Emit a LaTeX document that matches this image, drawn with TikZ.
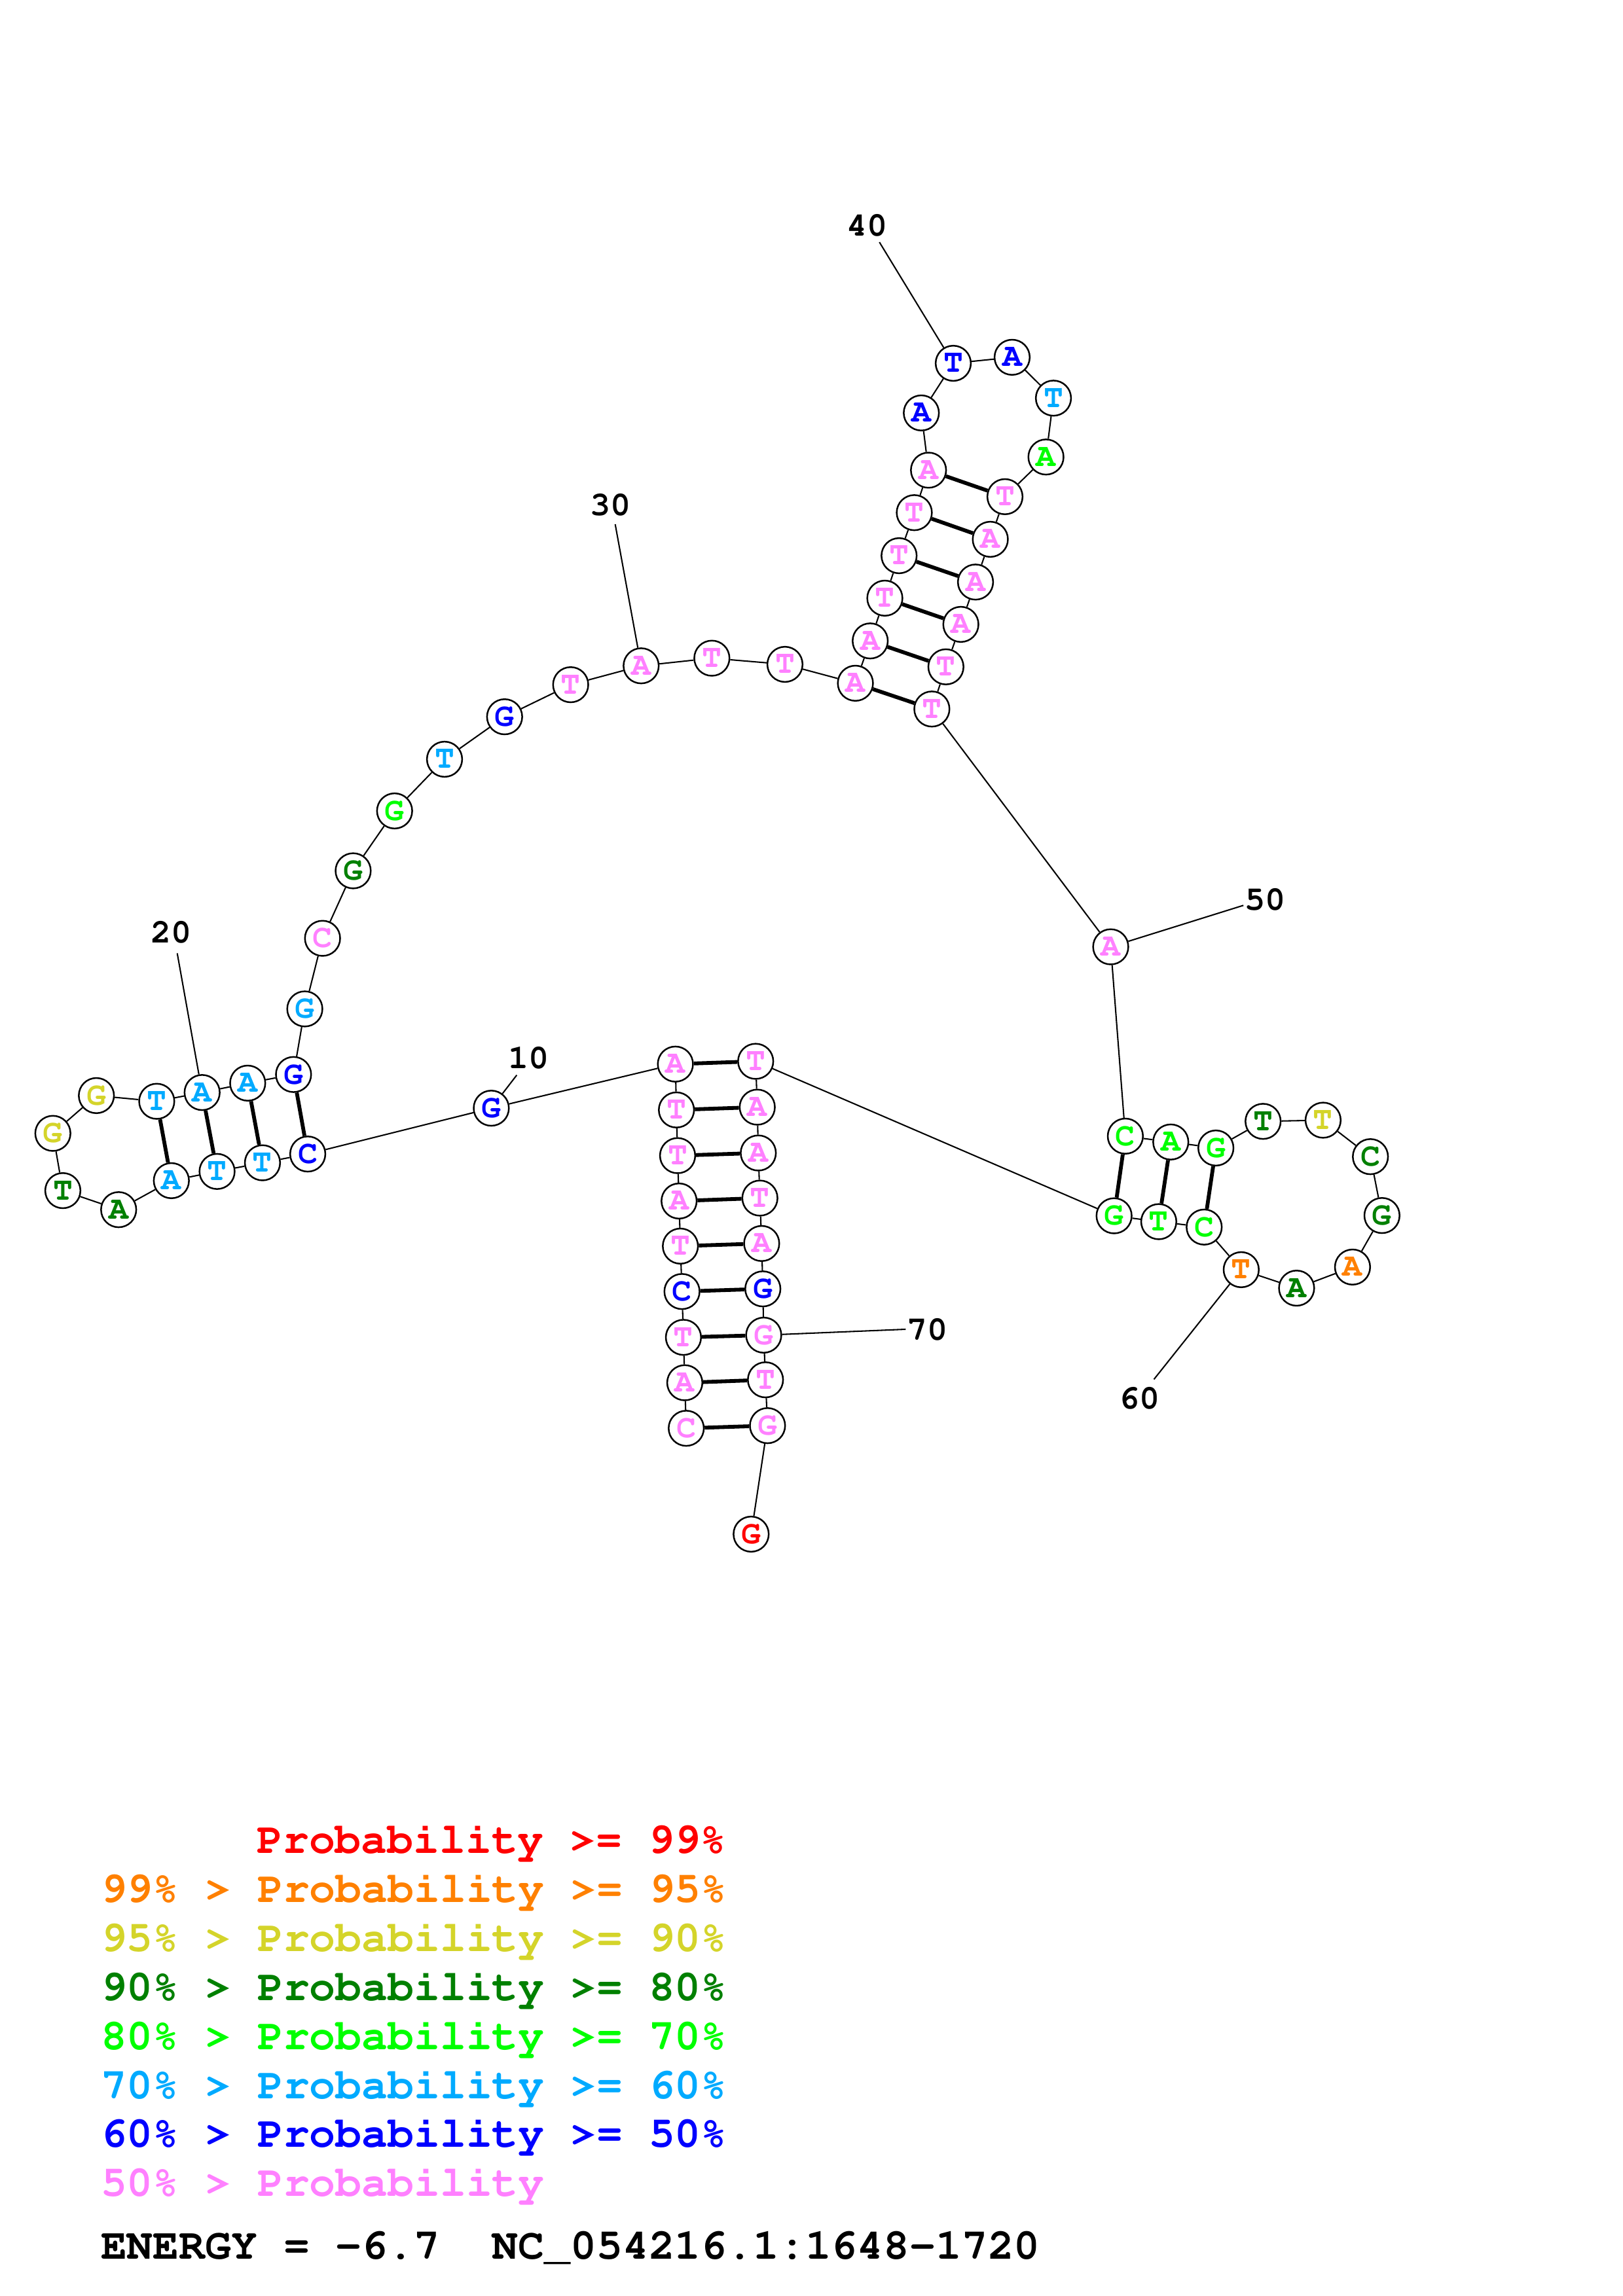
\documentclass[tikz,border=0pt]{standalone}
\usepackage[T1,TU]{fontenc}
\usepackage{fontspec}
\usepackage{tikz}
\newcommand\courfont{\fontencoding{T1}\fontfamily{pcr}\selectfont}
\definecolor{probred}{HTML}{FF0000}
\definecolor{proborange}{HTML}{FF8000}
\definecolor{probyellow}{HTML}{D4D42A}
\definecolor{probdkgreen}{HTML}{008000}
\definecolor{probgreen}{HTML}{00FF00}
\definecolor{probsky}{HTML}{00AAFF}
\definecolor{probblue}{HTML}{0000FF}
\definecolor{probpink}{HTML}{FF80FF}

\begin{document}
\begin{tikzpicture}[x=0.18941mm,y=-0.18941mm]
                    \tikzstyle{every node}=[font=\courfont\bfseries]
                    \tikzstyle{nuc} = [circle, draw=black, fill=white, line width=0.6pt, minimum size=4.55mm, inner sep=0pt, font=\courfont\bfseries\fontsize{12}{12}\selectfont]
                    \tikzstyle{backbone} = [line width=0.5pt]
                    \tikzstyle{pair} = [line width=1.4pt]
                    \tikzstyle{idx} = [inner sep=0pt, font=\courfont\bfseries\fontsize{12.5}{14}\selectfont]
                    \tikzstyle{legend} = [anchor=base west, inner sep=0pt, font=\courfont\bfseries\fontsize{16}{18}\selectfont]

                    \useasboundingbox (0,0) rectangle (1108,1568);

                    % middle stem, 5' side
                    \node[nuc, text=probpink](n1) at (468.5,975.4) {C};
                    \node[nuc, text=probpink](n2) at (467.5,944.3) {A};
                    \node[nuc, text=probpink](n3) at (466.6,913.3) {T};
                    \node[nuc, text=probblue](n4) at (465.6,882.0) {C};
                    \node[nuc, text=probpink](n5) at (464.5,851.0) {T};
                    \node[nuc, text=probpink](n6) at (463.6,820.2) {A};
                    \node[nuc, text=probpink](n7) at (462.6,789.2) {T};
                    \node[nuc, text=probpink](n8) at (461.8,758.0) {T};
                    \node[nuc, text=probpink](n9) at (461.1,726.7) {A};
                    \node[nuc, text=probblue](n10) at (335.4,756.8) {G};
                    % left hairpin
                    \node[nuc, text=probblue](n11) at (210.1,788.1) {C};
                    \node[nuc, text=probsky](n12) at (179.2,794.1) {T};
                    \node[nuc, text=probsky](n13) at (148.2,800.0) {T};
                    \node[nuc, text=probsky](n14) at (117.0,806.3) {A};
                    \node[nuc, text=probdkgreen](n15) at (81.0,826.1) {A};
                    \node[nuc, text=probdkgreen](n16) at (42.9,813.1) {T};
                    \node[nuc, text=probyellow](n17) at (36.1,774.0) {G};
                    \node[nuc, text=probyellow](n18) at (65.8,748.2) {G};
                    \node[nuc, text=probsky](n19) at (107.0,752.1) {T};
                    \node[nuc, text=probsky](n20) at (138.0,746.1) {A};
                    \node[nuc, text=probsky](n21) at (169.1,739.7) {A};
                    \node[nuc, text=probblue](n22) at (200.4,733.8) {G};
                    % arc up to the top hairpin
                    \node[nuc, text=probsky](n23) at (208.1,689.0) {G};
                    \node[nuc, text=probpink](n24) at (220.2,640.8) {C};
                    \node[nuc, text=probdkgreen](n25) at (241.1,594.7) {G};
                    \node[nuc, text=probgreen](n26) at (269.4,553.8) {G};
                    \node[nuc, text=probsky](n27) at (303.5,518.5) {T};
                    \node[nuc, text=probblue](n28) at (344.5,489.5) {G};
                    \node[nuc, text=probpink](n29) at (389.6,467.6) {T};
                    \node[nuc, text=probpink](n30) at (437.7,454.7) {A};
                    \node[nuc, text=probpink](n31) at (486.0,449.5) {T};
                    \node[nuc, text=probpink](n32) at (535.9,453.7) {T};
                    % top hairpin
                    \node[nuc, text=probpink](n33) at (584.0,466.6) {A};
                    \node[nuc, text=probpink](n34) at (594.1,437.7) {A};
                    \node[nuc, text=probpink](n35) at (604.1,408.5) {T};
                    \node[nuc, text=probpink](n36) at (613.8,379.5) {T};
                    \node[nuc, text=probpink](n37) at (624.2,350.1) {T};
                    \node[nuc, text=probpink](n38) at (633.9,321.1) {A};
                    \node[nuc, text=probblue](n39) at (629.0,282.0) {A};
                    \node[nuc, text=probblue](n40) at (650.8,248.1) {T};
                    \node[nuc, text=probblue](n41) at (691.0,244.0) {A};
                    \node[nuc, text=probsky](n42) at (719.2,271.9) {T};
                    \node[nuc, text=probgreen](n43) at (714.1,312.1) {A};
                    \node[nuc, text=probpink](n44) at (686.1,339.2) {T};
                    \node[nuc, text=probpink](n45) at (676.1,368.3) {A};
                    \node[nuc, text=probpink](n46) at (666.0,397.5) {A};
                    \node[nuc, text=probpink](n47) at (656.0,426.4) {A};
                    \node[nuc, text=probpink](n48) at (645.8,455.4) {T};
                    \node[nuc, text=probpink](n49) at (636.2,484.2) {T};
                    \node[nuc, text=probpink](n50) at (758.3,646.6) {A};
                    % right hairpin
                    \node[nuc, text=probgreen](n51) at (768.3,775.9) {C};
                    \node[nuc, text=probgreen](n52) at (799.3,779.9) {A};
                    \node[nuc, text=probgreen](n53) at (830.1,784.0) {G};
                    \node[nuc, text=probdkgreen](n54) at (862.3,765.8) {T};
                    \node[nuc, text=probyellow](n55) at (903.3,765.0) {T};
                    \node[nuc, text=probdkgreen](n56) at (935.6,789.9) {C};
                    \node[nuc, text=probdkgreen](n57) at (943.5,830.1) {G};
                    \node[nuc, text=proborange](n58) at (923.4,865.3) {A};
                    \node[nuc, text=probdkgreen](n59) at (885.2,879.7) {A};
                    \node[nuc, text=proborange](n60) at (847.4,867.1) {T};
                    \node[nuc, text=probgreen](n61) at (822.1,838.0) {C};
                    \node[nuc, text=probgreen](n62) at (791.1,834.3) {T};
                    \node[nuc, text=probgreen](n63) at (760.6,830.3) {G};
                    % middle stem, 3' side
                    \node[nuc, text=probpink](n64) at (515.9,724.8) {T};
                    \node[nuc, text=probpink](n65) at (517.0,756.1) {A};
                    \node[nuc, text=probpink](n66) at (517.7,787.4) {A};
                    \node[nuc, text=probpink](n67) at (518.8,818.2) {T};
                    \node[nuc, text=probpink](n68) at (520.0,849.2) {A};
                    \node[nuc, text=probblue](n69) at (520.8,880.2) {G};
                    \node[nuc, text=probpink](n70) at (521.4,911.8) {G};
                    \node[nuc, text=probpink](n71) at (522.6,942.3) {T};
                    \node[nuc, text=probpink](n72) at (524.0,973.6) {G};
                    \node[nuc, text=probred](n73) at (512.8,1047.7) {G};

                    \foreach \i in {1,...,72}{
                        \pgfmathtruncatemacro{\j}{\i+1}
                        \draw[backbone] (n\i) -- (n\j);
                    }
                    \foreach \p/\q in {1/72,2/71,3/70,4/69,5/68,6/67,7/66,8/65,9/64,11/22,12/21,13/20,14/19,33/49,34/48,35/47,36/46,37/45,38/44,51/63,52/62,53/61}
                        \draw[pair] (n\p) -- (n\q);

                    % position numbers
                    \node[idx](l10) at (360.8,722.6) {10};
                    \node[idx](l20) at (117.0,637.0) {20};
                    \node[idx](l30) at (417.0,345.0) {30};
                    \node[idx](l40) at (592.2,154.2) {40};
                    \node[idx](l50) at (863.8,614.6) {50};
                    \node[idx](l60) at (778.0,955.0) {60};
                    \node[idx](l70) at (633.0,908.0) {70};
                    \coordinate (t10) at (352.8,734.2);
                    \coordinate (t20) at (121.0,651.0);
                    \coordinate (t30) at (420.0,358.0);
                    \coordinate (t40) at (600.4,165.4);
                    \coordinate (t50) at (848.9,618.3);
                    \coordinate (t60) at (787.8,942.0);
                    \coordinate (t70) at (618.3,907.8);
                    \foreach \k in {10,20,30,40,50,60,70}
                        \draw[backbone] (n\k) -- (t\k);

                    % legend
                    \node[legend, text=probred](g1) at (175.0,1265.5) {Probability >= 99\%};
                    \node[legend, text=proborange](g2) at (68.5,1299.0) {99\% > Probability >= 95\%};
                    \node[legend, text=probyellow](g3) at (68.5,1332.5) {95\% > Probability >= 90\%};
                    \node[legend, text=probdkgreen](g4) at (68.5,1366.0) {90\% > Probability >= 80\%};
                    \node[legend, text=probgreen](g5) at (68.5,1399.5) {80\% > Probability >= 70\%};
                    \node[legend, text=probsky](g6) at (68.5,1433.0) {70\% > Probability >= 60\%};
                    \node[legend, text=probblue](g7) at (68.5,1466.5) {60\% > Probability >= 50\%};
                    \node[legend, text=probpink](g8) at (68.5,1500.0) {50\% > Probability};
                    \node[legend, text=black](energy) at (68.5,1542.8) {ENERGY = -6.7\ \ NC\_054216.1:1648-1720};
        
            \end{tikzpicture}
\end{document}
